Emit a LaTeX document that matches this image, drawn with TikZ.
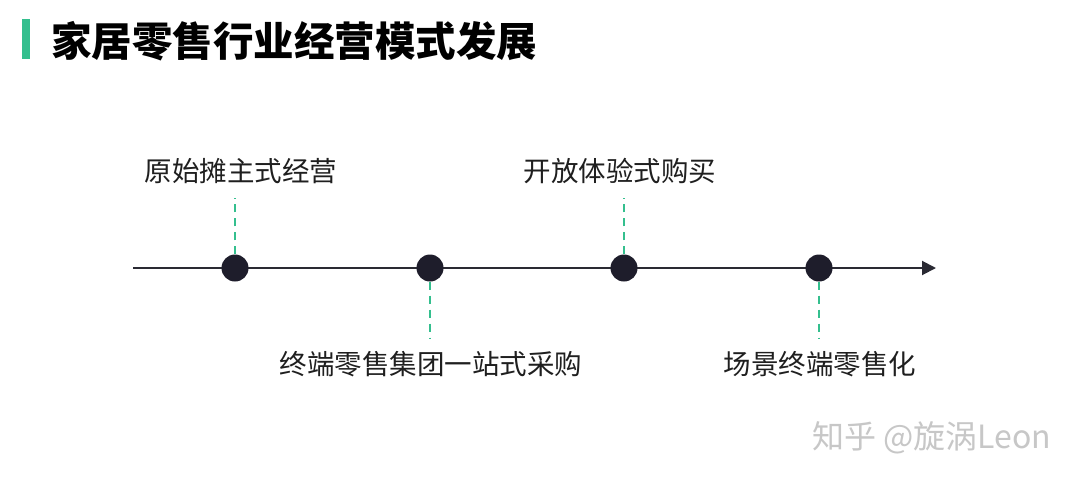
\documentclass[tikz,border=0pt]{standalone}
\usepackage{fontspec}
\setmainfont{Noto Sans CJK SC}
\usetikzlibrary{arrows.meta}
\definecolor{accent}{HTML}{34BF8E}
\definecolor{dotc}{HTML}{1E1D2B}
\definecolor{linec}{HTML}{2A2A33}
\tikzset{
  dotnode/.style={circle,fill=dotc,minimum size=27pt,inner sep=0pt},
  lbl/.style={font=\fontsize{27.5}{31}\selectfont,text=black!88,inner sep=0pt},
  tick/.style={draw=accent,line width=2.2pt,dash pattern=on 8pt off 6pt}
}
\begin{document}
\begin{tikzpicture}[x=1pt,y=-1pt]
\useasboundingbox[fill=white] (0,0) rectangle (1080,482);
% title bar
\fill[accent] (22,19) rectangle (30,59);
\node[anchor=west,inner sep=0pt,font=\fontsize{40.5}{44}\selectfont\bfseries] (title) at (51,41) {家居零售行业经营模式发展};
% axis
\coordinate (start) at (133,268);
\coordinate (end) at (936,268);
\draw[linec,line width=2pt,-{Triangle[length=14pt,width=14pt]}] (start) -- (end);
% dots
\node[dotnode] (d1) at (235,268) {};
\node[dotnode] (d2) at (430,268) {};
\node[dotnode] (d3) at (624,268) {};
\node[dotnode] (d4) at (819,268) {};
% tick ends
\coordinate (t1) at (235,198);
\coordinate (t2) at (430,338);
\coordinate (t3) at (624,198);
\coordinate (t4) at (819,338);
\draw[tick] (d1.north) -- (t1);
\draw[tick] (d2.south) -- (t2);
\draw[tick] (d3.north) -- (t3);
\draw[tick] (d4.south) -- (t4);
% labels
\node[lbl] (l1) at (241,171) {原始摊主式经营};
\node[lbl] (l2) at (431,364) {终端零售集团一站式采购};
\node[lbl] (l3) at (620,171) {开放体验式购买};
\node[lbl] (l4) at (820,364) {场景终端零售化};
% watermark
\node[anchor=west,inner sep=0pt,text=black!22,font=\fontsize{32}{36}\selectfont] (wm) at (812,438) {知乎 @旋涡Leon};
\end{tikzpicture}
\end{document}
